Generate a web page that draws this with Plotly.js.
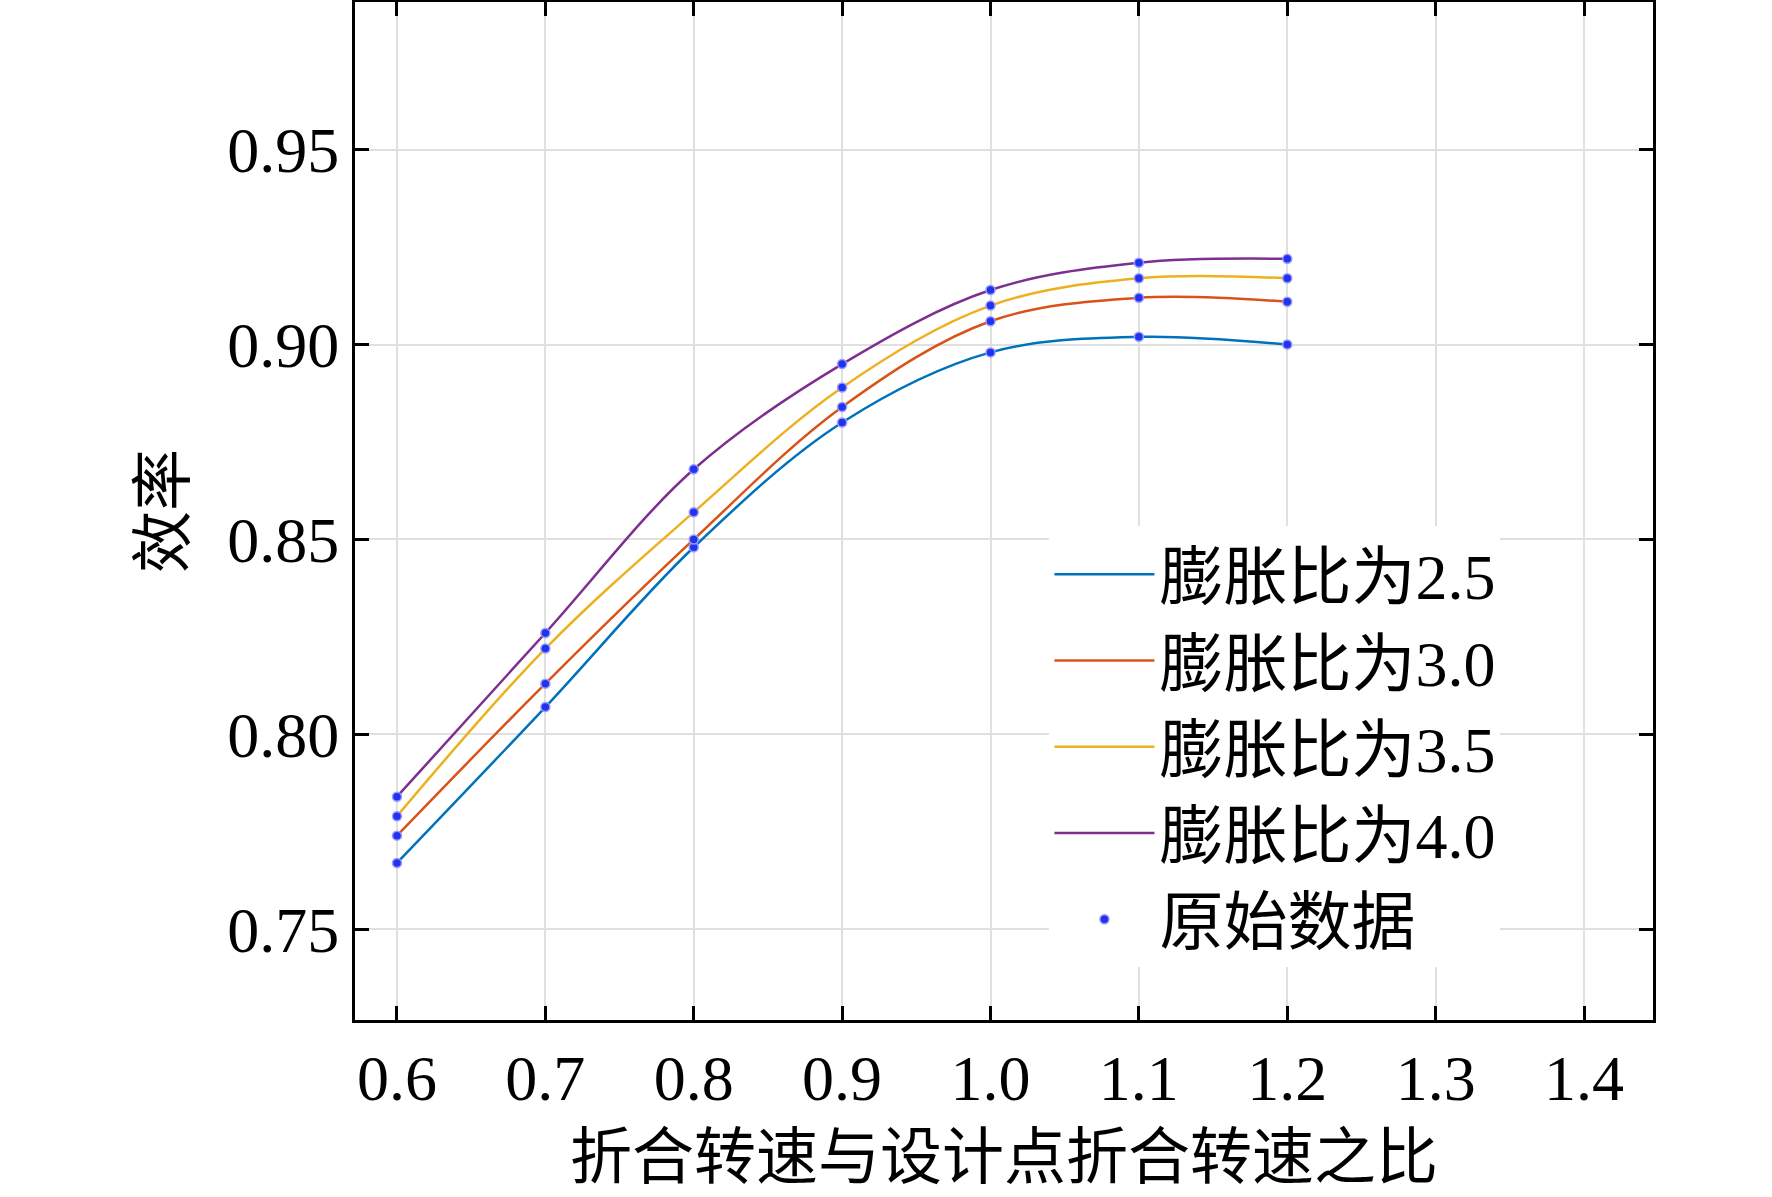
<!DOCTYPE html>
<html><head><meta charset="utf-8">
<script src="https://cdn.plot.ly/plotly-3.0.1.min.js"></script>
<style>body{margin:0;background:#fff}</style>
</head><body><div id="plot" style="width:1772px;height:1197px"></div>
<script>
var speedRatio = [0.6, 0.7, 0.8, 0.9, 1.0, 1.1, 1.2];
var eff25 = [0.767, 0.807, 0.848, 0.880, 0.898, 0.902, 0.900];
var eff30 = [0.774, 0.813, 0.850, 0.884, 0.906, 0.912, 0.911];
var eff35 = [0.779, 0.822, 0.857, 0.889, 0.910, 0.917, 0.917];
var eff40 = [0.784, 0.826, 0.868, 0.895, 0.914, 0.921, 0.922];
var names = ['膨胀比为2.5', '膨胀比为3.0', '膨胀比为3.5', '膨胀比为4.0'];
var colors = ['#0072bd', '#d95319', '#edb120', '#7e2f8e'];

var series = [eff25, eff30, eff35, eff40];
var traces = series.map(function (ys, i) {
    return {x: speedRatio, y: ys, name: names[i], mode: 'lines', type: 'scatter',
            line: {color: colors[i], width: 2.5, shape: 'spline', smoothing: 1}};
});
// all raw points as one marker trace
var px = [], py = [];
series.forEach(function (ys) { ys.forEach(function (v, j) { px.push(speedRatio[j]); py.push(v); }); });
traces.push({x: px, y: py, name: '原始数据', mode: 'markers', type: 'scatter',
             marker: {color: '#2233ee', size: 9, line: {color: '#9999ff', width: 1.5}}});

var font = {family: 'Liberation Serif, Noto Sans CJK SC, serif', size: 64, color: '#000'};
var axis = {showline: true, linecolor: '#000', linewidth: 3, mirror: 'ticks',
            ticks: 'inside', ticklen: 14, tickwidth: 3, tickcolor: '#000',
            showgrid: true, gridcolor: '#e0e0e0', gridwidth: 2, zeroline: false,
            tickfont: font};
var layout = {
    width: 1772, height: 1197,
    margin: {l: 355, r: 119, t: 2, b: 177},
    paper_bgcolor: '#fff', plot_bgcolor: '#fff',
    font: font,
    xaxis: Object.assign({}, axis, {range: [0.5717, 1.4465], dtick: 0.1, tickformat: '.1f',
        title: {text: '折合转速与设计点折合转速之比', font: {family: 'Noto Sans CJK SC', size: 62}, standoff: 6}}),
    yaxis: Object.assign({}, axis, {range: [0.7267, 0.9879], dtick: 0.05, tick0: 0.75, tickformat: '.2f',
        title: {text: '效率', font: {family: 'Noto Sans CJK SC', size: 62}, standoff: 22}}),
    legend: {x: 0.535, y: 0.485, xanchor: 'left', yanchor: 'top', bgcolor: '#fff',
             itemwidth: 100, font: {family: 'Liberation Serif, Noto Sans CJK SC', size: 64}, tracegroupgap: 0},
    showlegend: true
};
Plotly.newPlot('plot', traces, layout, {displayModeBar: false});
</script></body></html>
